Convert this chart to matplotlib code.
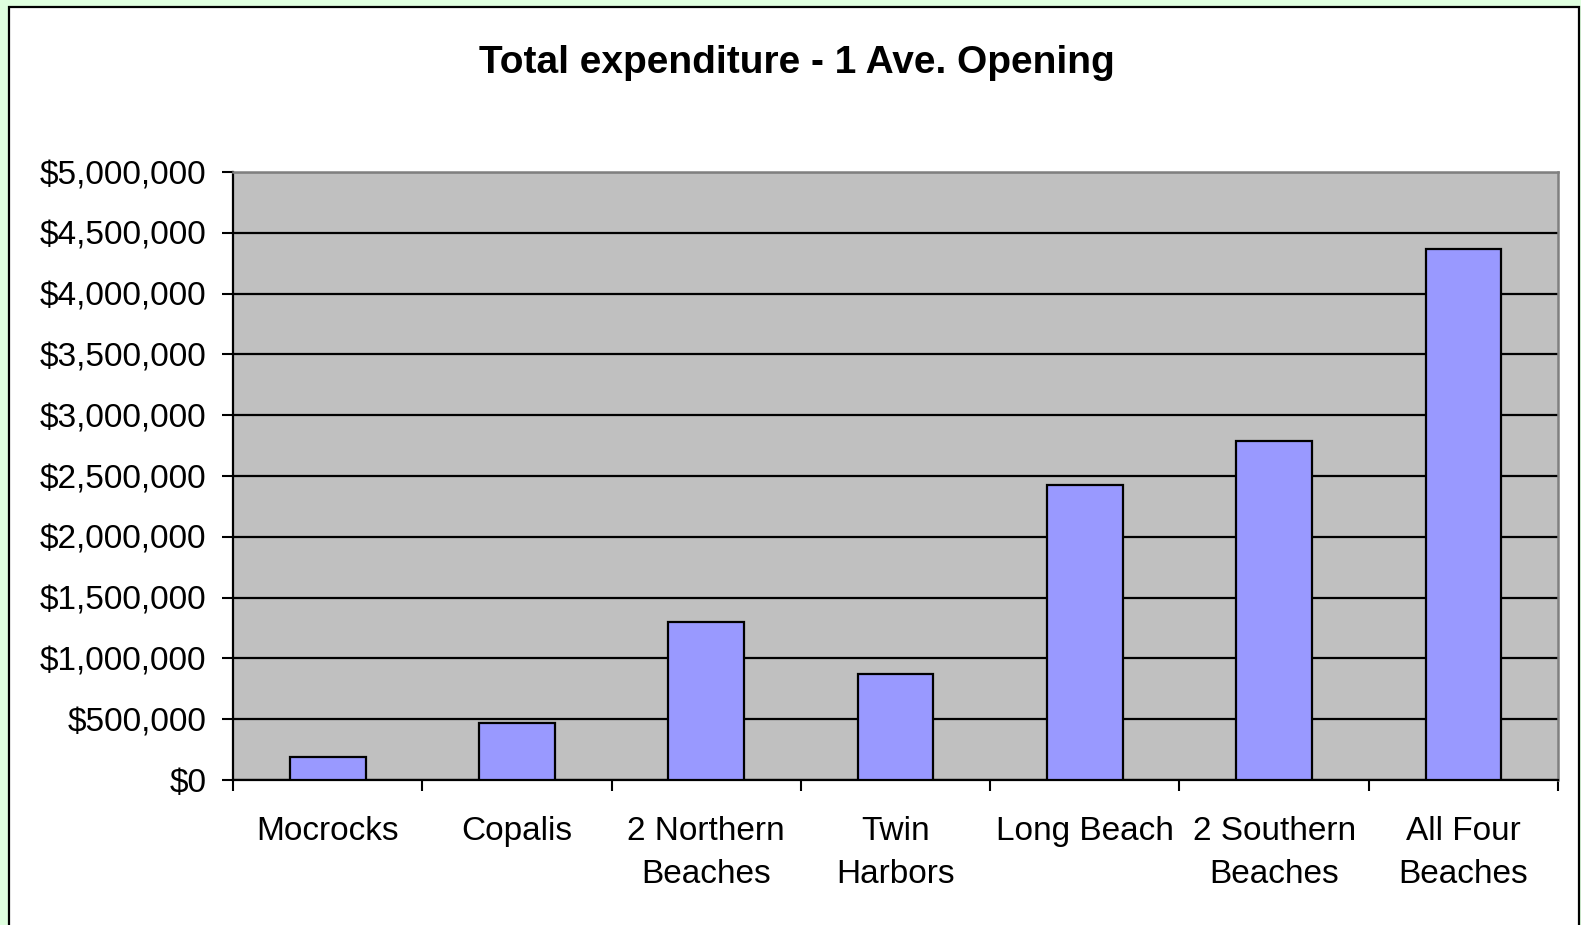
import matplotlib
matplotlib.use("Agg")
import matplotlib.pyplot as plt
import numpy as np
from matplotlib.patches import Rectangle
from matplotlib.ticker import FuncFormatter, MultipleLocator

# ---------------------------------------------------------------------------
# Data
# ---------------------------------------------------------------------------
CATEGORIES = ["Mocrocks", "Copalis", "2 Northern\nBeaches", "Twin\nHarbors",
              "Long Beach", "2 Southern\nBeaches", "All Four\nBeaches"]
EXPENDITURE = [190_000, 470_000, 1_300_000, 875_000, 2_425_000, 2_785_000, 4_365_000]
TITLE = "Total expenditure - 1 Ave. Opening"

plt.rcParams["font.family"] = ["Liberation Sans", "DejaVu Sans"]

W, H = 1581, 925
fig = plt.figure(figsize=(W / 100, H / 100), dpi=100, facecolor="#DFFFDF")

# white chart panel with black frame (bottom edge runs off the image)
fig.add_artist(Rectangle((9 / W, -0.05), (1579 - 9) / W, 0.05 + (H - 7) / H,
                         transform=fig.transFigure, facecolor="white",
                         edgecolor="black", linewidth=1.6, zorder=0))

left, right, top, bottom = 233, 1558, 172, 780
ax = fig.add_axes([left / W, (H - bottom) / H, (right - left) / W, (bottom - top) / H])
ax.set_facecolor("#C0C0C0")

x = np.arange(len(CATEGORIES))
ax.bar(x, EXPENDITURE, width=0.4, color="#9999FF", edgecolor="black",
       linewidth=1.6, zorder=3)

ax.set_xlim(-0.5, len(CATEGORIES) - 0.5)
ax.set_ylim(0, 5_000_000)
ax.yaxis.set_major_locator(MultipleLocator(500_000))
ax.yaxis.set_major_formatter(FuncFormatter(lambda v, _: f"${v:,.0f}"))
ax.grid(axis="y", color="black", linewidth=1.6, zorder=1)
ax.set_axisbelow(True)

# category boundaries carry the tick marks, labels sit at the centres
ax.set_xticks(np.arange(-0.5, len(CATEGORIES)), labels=[])
ax.set_xticks(x, labels=CATEGORIES, minor=True)
ax.tick_params(axis="x", which="major", length=8, width=1.5, direction="out")
ax.tick_params(axis="x", which="minor", length=0, pad=26, labelsize=24)
ax.tick_params(axis="y", length=8, width=1.5, pad=11, labelsize=24)
for lbl in ax.get_xticklabels(minor=True):
    lbl.set_linespacing(1.5)

for side in ("left", "bottom"):
    ax.spines[side].set_color("black")
    ax.spines[side].set_linewidth(1.6)
for side in ("top", "right"):
    ax.spines[side].set_color("#808080")
    ax.spines[side].set_linewidth(1.8)

fig.text(797 / W, 1 - 63 / H, TITLE, ha="center", va="center",
         fontsize=28, fontweight="bold")

fig.savefig("out.png", dpi=100, facecolor=fig.get_facecolor())
